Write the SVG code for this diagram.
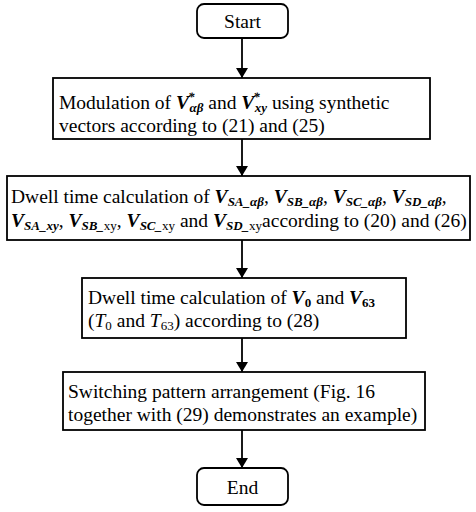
<svg xmlns="http://www.w3.org/2000/svg" width="476" height="512" viewBox="0 0 476 512">
<defs>
<marker id="ah" viewBox="0 0 10 12" refX="10" refY="6" markerWidth="10" markerHeight="12" markerUnits="userSpaceOnUse" orient="auto">
<path d="M0,0 L10,6 L0,12 Z" fill="#000"/>
</marker>
<style>
.box{fill:#fff;stroke:#000;stroke-width:1.8}
.t{font-size:19.5px;fill:#000}
.v{font-weight:bold;font-style:italic}
.s{font-size:13px}
.i{font-style:italic}
.c{stroke:#000;stroke-width:1.8;fill:none}
</style>
</defs>
<g id="connectors">
<line class="c" x1="242" y1="38" x2="242" y2="78" marker-end="url(#ah)"/>
<line class="c" x1="242" y1="139" x2="242" y2="176" marker-end="url(#ah)"/>
<line class="c" x1="242" y1="240" x2="242" y2="278" marker-end="url(#ah)"/>
<line class="c" x1="242" y1="338" x2="242" y2="372" marker-end="url(#ah)"/>
<line class="c" x1="242" y1="430" x2="242" y2="468" marker-end="url(#ah)"/>
</g>
<g font-family="'Liberation Serif', 'Times New Roman', serif">
<g id="start">
<rect class="box" x="197" y="4" width="91" height="34" rx="7"/>
<text class="t" x="242.5" y="27.5" text-anchor="middle">Start</text>
</g>
<g id="modulation">
<rect class="box" x="53" y="78" width="377" height="61"/>
<text class="t" x="59" y="109">Modulation of <tspan class="v">V</tspan><tspan class="s v" dx="-1" dy="-8">*</tspan><tspan class="s v" dx="-5" dy="11">αβ</tspan><tspan dy="-3"> and </tspan><tspan class="v">V</tspan><tspan class="s v" dx="-1" dy="-8">*</tspan><tspan class="s v" dx="-5" dy="11">xy</tspan><tspan dy="-3"> using synthetic</tspan></text>
<text class="t" x="59" y="132">vectors according to (21) and (25)</text>
</g>
<g id="dwell1">
<rect class="box" x="7" y="176" width="463" height="64"/>
<text class="t" x="11" y="203">Dwell time calculation of <tspan class="v">V</tspan><tspan class="s v" dy="3">SA_αβ</tspan><tspan dy="-3">, </tspan><tspan class="v">V</tspan><tspan class="s v" dy="3">SB_αβ</tspan><tspan dy="-3">, </tspan><tspan class="v">V</tspan><tspan class="s v" dy="3">SC_αβ</tspan><tspan dy="-3">, </tspan><tspan class="v">V</tspan><tspan class="s v" dy="3">SD_αβ</tspan><tspan dy="-3">,</tspan></text>
<text class="t" x="11" y="227"><tspan class="v">V</tspan><tspan class="s v" dy="3">SA_xy</tspan><tspan dy="-3">, </tspan><tspan class="v">V</tspan><tspan class="s v" dy="3">SB_</tspan><tspan class="s">xy</tspan><tspan dy="-3">, </tspan><tspan class="v">V</tspan><tspan class="s v" dy="3">SC_</tspan><tspan class="s">xy</tspan><tspan dy="-3"> and </tspan><tspan class="v">V</tspan><tspan class="s v" dy="3">SD_</tspan><tspan class="s">xy</tspan><tspan dy="-3">according to (20) and (26)</tspan></text>
</g>
<g id="dwell2">
<rect class="box" x="82" y="278" width="324" height="60"/>
<text class="t" x="88" y="304">Dwell time calculation of <tspan class="v">V</tspan><tspan class="s" font-weight="bold" dy="3">0</tspan><tspan dy="-3"> and </tspan><tspan class="v">V</tspan><tspan class="s" font-weight="bold" dy="3">63</tspan></text>
<text class="t" x="88" y="327">(<tspan class="i">T</tspan><tspan class="s" dy="3">0</tspan><tspan dy="-3"> and </tspan><tspan class="i">T</tspan><tspan class="s" dy="3">63</tspan><tspan dy="-3">) according to (28)</tspan></text>
</g>
<g id="switching">
<rect class="box" x="63" y="372" width="362" height="58"/>
<text class="t" x="68" y="398">Switching pattern arrangement (Fig. 16</text>
<text class="t" x="68" y="421">together with (29) demonstrates an example)</text>
</g>
<g id="end">
<rect class="box" x="197" y="468" width="91" height="37" rx="7"/>
<text class="t" x="242.5" y="493.5" text-anchor="middle">End</text>
</g>
</g>
</svg>
